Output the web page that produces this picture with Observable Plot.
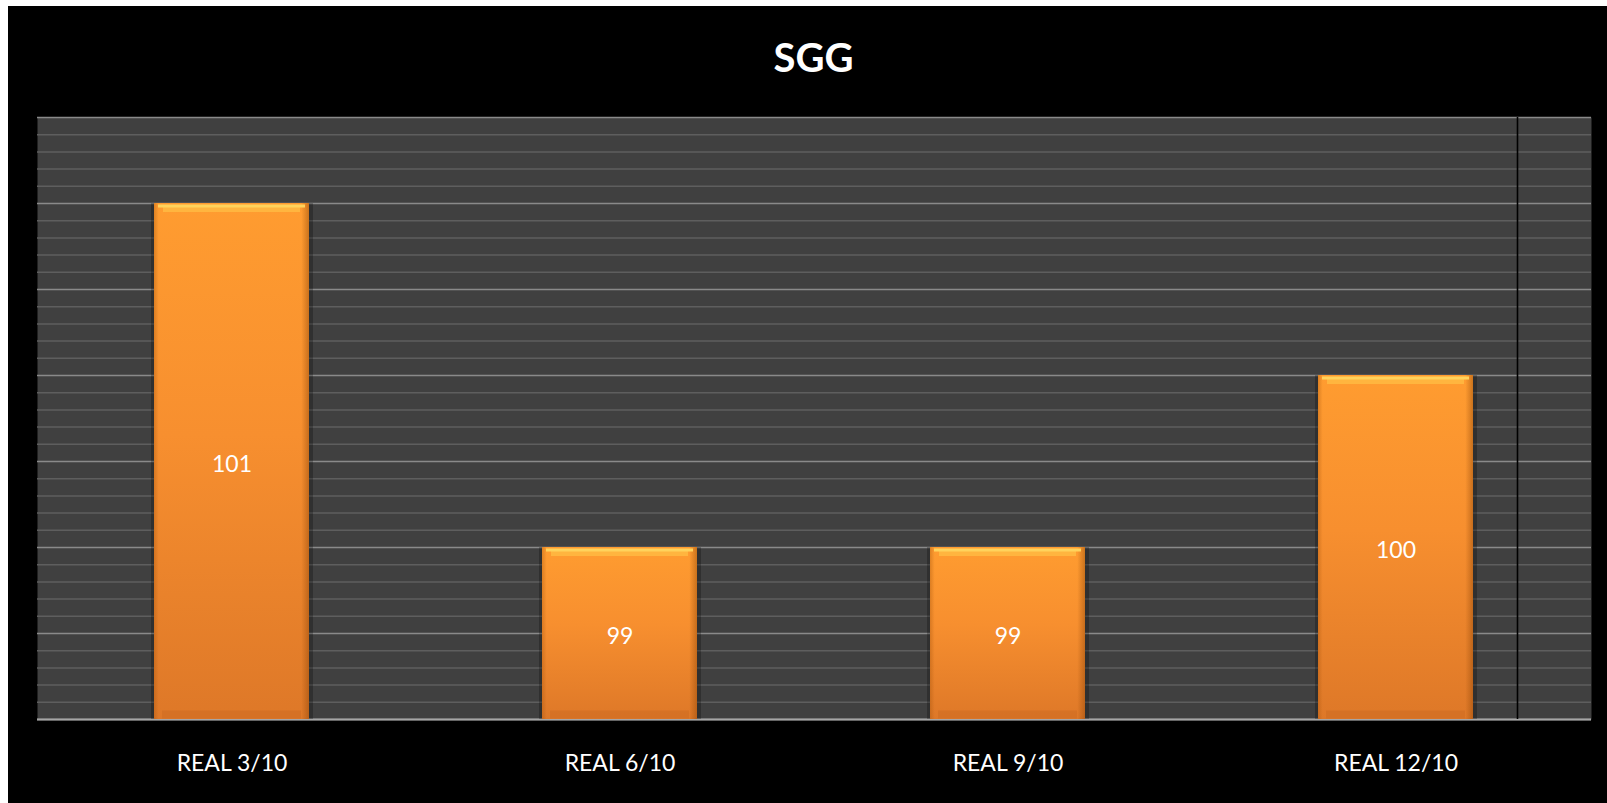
<!DOCTYPE html>
<html>
<head>
<meta charset="utf-8">
<script src="https://cdn.jsdelivr.net/npm/d3@7"></script>
<script src="https://cdn.jsdelivr.net/npm/@observablehq/plot@0.6"></script>
<style>
  html, body { margin: 0; padding: 0; background: #ffffff; width: 1607px; height: 803px; overflow: hidden; }
  #panel { position: absolute; left: 8px; top: 6px; width: 1599px; height: 797px; background: #000000; }
  #title { position: absolute; left: 0; top: 31px; width: 1611px; text-align: center;
           font-family: Lato, "Open Sans", sans-serif; font-weight: 700; font-size: 40px; line-height: 40px; color: #ffffff; }
  #chart { position: absolute; left: 0; top: 84px; }
</style>
</head>
<body>
<div id="panel">
  <div id="title">SGG</div>
  <div id="chart"></div>
</div>
<script>
const categories = ["REAL 3/10", "REAL 6/10", "REAL 9/10", "REAL 12/10"];
const values = [101, 99, 99, 100];
const yDomain = [98, 101.5];
const yMajorTicks = [98, 98.5, 99, 99.5, 100, 100.5, 101, 101.5];
const yMinorTicks = [98.1, 98.2, 98.3, 98.4, 98.6, 98.7, 98.8, 98.9, 99.1, 99.2, 99.3, 99.4,
  99.6, 99.7, 99.8, 99.9, 100.1, 100.2, 100.3, 100.4, 100.6, 100.7, 100.8, 100.9, 101.1, 101.2, 101.3, 101.4];

const data = categories.map((c, i) => ({category: c, value: values[i]}));

const plot = Plot.plot({
  width: 1599,
  height: 713,
  marginTop: 27,
  marginBottom: 84,
  marginLeft: 29,
  marginRight: 16,
  style: {background: "transparent", color: "#ffffff", fontFamily: "Lato, 'Open Sans', sans-serif", fontSize: "23px"},
  x: {domain: categories, paddingInner: 0.6, paddingOuter: 0.3, label: null},
  y: {domain: yDomain, axis: null},
  marks: [
    Plot.frame({fill: "#404040", stroke: null}),
    Plot.ruleY(yMinorTicks, {stroke: "#5e5e5e", strokeWidth: 1.5}),
    Plot.ruleY(yMajorTicks, {stroke: "#8a8a8a", strokeWidth: 1.6}),
    Plot.ruleY([yDomain[0]], {stroke: "#a6a6a6", strokeWidth: 2}),
    Plot.ruleX([categories[3]], {stroke: "#000000", strokeWidth: 1.6, dx: 121.5}),
    // soft shadow behind bars
    Plot.barY(data, {x: "category", y1: yDomain[0], y2: "value", fill: "#000000", fillOpacity: 0.25, insetLeft: -3, insetRight: -4}),
    Plot.barY(data, {x: "category", y1: yDomain[0], y2: "value", fill: "url(#barGrad)"}),
    Plot.barY(data, {x: "category", y1: yDomain[0], y2: "value", fill: "url(#edgeGrad)"}),
    Plot.tickY(data, {x: "category", y: "value", stroke: "#ffb53f", strokeWidth: 5, dy: 6, insetLeft: 9, insetRight: 9}),
    Plot.tickY(data, {x: "category", y: "value", stroke: "#ffd35c", strokeWidth: 3, dy: 2.5, insetLeft: 4, insetRight: 4}),
    Plot.tickY(data, {x: "category", y: yDomain[0], stroke: "#c9691f", strokeOpacity: 0.45, strokeWidth: 8, dy: -5, insetLeft: 8, insetRight: 8}),
    Plot.text(data, {x: "category", y: d => (d.value + yDomain[0]) / 2, text: d => String(d.value),
      fill: "#ffffff", fontSize: 23, dy: 3}),
    Plot.axisX({tickSize: 0, tickPadding: 35, fontSize: 23, fill: "#ffffff"})
  ]
});

const svg = d3.select(plot);
const defs = svg.insert("defs", ":first-child");
const g1 = defs.append("linearGradient").attr("id", "barGrad").attr("x1", 0).attr("y1", 0).attr("x2", 0).attr("y2", 1);
g1.append("stop").attr("offset", "0%").attr("stop-color", "#ff9c30");
g1.append("stop").attr("offset", "45%").attr("stop-color", "#f78f2f");
g1.append("stop").attr("offset", "100%").attr("stop-color", "#de7828");
const g2 = defs.append("linearGradient").attr("id", "edgeGrad").attr("x1", 0).attr("y1", 0).attr("x2", 1).attr("y2", 0);
g2.append("stop").attr("offset", "0%").attr("stop-color", "#a0500a").attr("stop-opacity", 0.35);
g2.append("stop").attr("offset", "3%").attr("stop-color", "#a0500a").attr("stop-opacity", 0);
g2.append("stop").attr("offset", "95%").attr("stop-color", "#8a4205").attr("stop-opacity", 0);
g2.append("stop").attr("offset", "100%").attr("stop-color", "#8a4205").attr("stop-opacity", 0.45);

document.getElementById("chart").appendChild(plot);
</script>
</body>
</html>
